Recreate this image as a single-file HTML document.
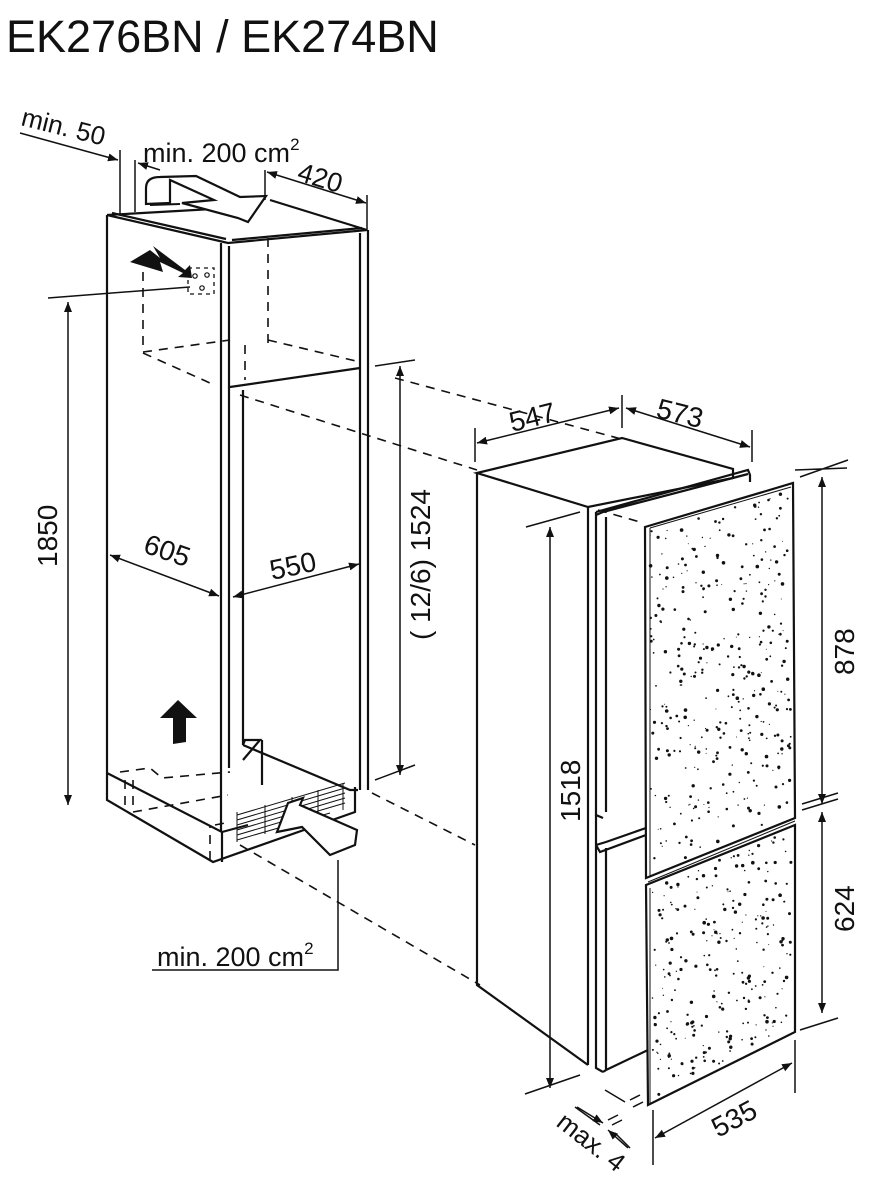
<!DOCTYPE html>
<html><head><meta charset="utf-8"><style>
html,body{margin:0;padding:0;background:#fff;width:878px;height:1200px;overflow:hidden}
svg{display:block}
text{font-family:"Liberation Sans",Arial,sans-serif;fill:#111}
</style></head><body>
<svg id="s" width="878" height="1200" viewBox="0 0 878 1200" xmlns="http://www.w3.org/2000/svg">
<defs>
<marker id="a" viewBox="0 0 10 10" refX="10" refY="5" markerWidth="10" markerHeight="10" orient="auto-start-reverse" markerUnits="userSpaceOnUse"><path d="M0,1 L10,5 L0,9 z" fill="#111"/></marker>
</defs>
<text x="6" y="52" font-size="45">EK276BN / EK274BN</text>

<g stroke="#111" fill="none" stroke-width="2.2">
<path d="M107,215 L228,243 L367,230 L270,200"/>
<path d="M107,215 L230,208"/>
<path d="M112,213 L226,239"/>
<path d="M232,240 L362,228"/>
<path d="M107,215 V770"/>
<path d="M221,243 V832 M229,246 V768 M243,390 V745"/>
<path d="M360,233 V790 M368,230 V790"/>
<path d="M230,387 L360,368"/>
<path d="M107,770 V800 L213,862 L355,812 V787"/>
<path d="M107,773 L222,832 V862"/>
<path d="M222,832 L248,825 M243,745 L350,790 L358,790"/>
<path d="M243,745 L245,740 L260,740 L243,760"/>
<path d="M262,740 V785"/>
</g>
<g stroke="#111" fill="none" stroke-width="1.6" stroke-dasharray="9,7">
<path d="M143,345 V260 M268,238 V345 M143,352 L230,340 M268,340 L360,362 M143,353 L210,383"/>
<path d="M245,345 V380"/>
<path d="M120,772 L150,768 L162,778 L230,772 M125,780 V810 M133,780 V812 M133,812 L228,795 M210,860 V825 M215,825 L230,822"/>
<path d="M395,378 L625,440"/>
<path d="M240,395 L477,470"/>
<path d="M372,793 L475,845"/>
<path d="M240,845 L480,985"/>
<path d="M598,510 L640,522"/>
</g>
<g stroke="#111" stroke-width="1" fill="none">
<path d="M237,815 L345,783 M237,820 L345,788 M237,825 L345,793 M237,830 L345,798 M237,835 L345,803 M237,840 L330,813"/>
<path d="M237,812 V842 M265,805 V834 M292,797 V826 M318,790 V818 M343,783 V810"/>
</g>
<path d="M146,204 V188 Q146,177 160,177 L196,176 L240,197 L266,196 L248,222 L238,218 L182,203 L214,200 L170,180 V203 Z" fill="#fff" stroke="#111" stroke-width="2.2"/>
<path d="M150,205 L180,204" stroke="#111" stroke-width="2"/>
<path d="M277,832 L288,803 L303,798 L300,805 L357,830 L355,845 L330,855 L302,827 Z" fill="#fff" stroke="#111" stroke-width="2.2"/>
<path d="M130,262 L150,250 L160,258 L153,246 L185,270 L190,265 L192,278 L178,277 L183,273 L160,262 L163,272 Z" fill="#111"/>
<g stroke="#111" stroke-width="1.3" fill="none" stroke-dasharray="4,4"><rect x="188" y="268" width="26" height="26"/></g>
<g stroke="#111" stroke-width="1.2" fill="none"><circle cx="195" cy="276" r="2.2"/><circle cx="207" cy="275" r="2.2"/><circle cx="202" cy="288" r="2.2"/></g>
<path d="M160,718 L178,700 L197,718 L186,718 L186,742 L173,744 L173,718 Z" fill="#111"/>

<g stroke="#111" stroke-width="1.5" fill="none">
<path d="M20,133 L118,160" marker-end="url(#a)"/>
<path d="M120,150 V215 M135,160 V212"/>
<path d="M160,170 L138,163" marker-end="url(#a)"/>
<path d="M265,170 V200 M367,195 V230"/>
<path d="M267,172 L366,203" marker-start="url(#a)" marker-end="url(#a)"/>
<path d="M48,298 L190,287"/>
<path d="M68,302 V805" marker-start="url(#a)" marker-end="url(#a)"/>
<path d="M110,555 L219,596" marker-start="url(#a)" marker-end="url(#a)"/>
<path d="M233,597 L359,564" marker-start="url(#a)" marker-end="url(#a)"/>
<path d="M375,366 L415,360"/>
<path d="M400,366 V775" marker-start="url(#a)" marker-end="url(#a)"/>
<path d="M375,780 L415,765"/>
<path d="M338,860 V970 H152"/>
</g>
<text font-size="26" transform="translate(20,125) rotate(14)">min. 50</text>
<text x="143" y="162" font-size="27">min. 200 cm<tspan dy="-12" font-size="17">2</tspan></text>
<text font-size="27" transform="translate(296,180) rotate(17)">420</text>
<text font-size="28" transform="translate(57,567) rotate(-90)">1850</text>
<text font-size="28" transform="translate(142,552) rotate(19)">605</text>
<text font-size="28" transform="translate(272,580) rotate(-12)">550</text>
<text font-size="28" transform="translate(430,640) rotate(-90)">( 12/6) 1524</text>
<text x="157" y="966" font-size="27">min. 200 cm<tspan dy="-12" font-size="17">2</tspan></text>

<g stroke="#111" fill="none" stroke-width="2.2">
<path d="M477,473 L622,438 L733,469 L733,478 L588,507 L477,473 Z"/>
<path d="M477,473 V985 L588,1065"/>
<path d="M588,507 V1065"/>
<path d="M596,512 L748,470 L750,475 V482 M596,512 V815 L603,818 M606,517 V812 M603,512 L748,474"/>
<path d="M596,515 L603,512"/>
<path d="M596,845 V1068 L603,1072 M606,848 V1070 L648,1050 M596,845 L606,842 L646,828 M596,845 L600,852 L646,835"/>
<path d="M596,815 L596,845"/>
<path d="M603,1072 L606,1070"/>
</g>
<g stroke="#111" fill="#fff" stroke-width="2.2">
<path d="M645,527 L793,483 L795,818 L646,878 Z"/>
<path d="M646,885 L795,825 L795,1032 L648,1105 Z"/>
</g>
<g stroke="#111" stroke-width="1" fill="none">
<path d="M650,528 L791,487 M650,528 V876 M650,888 V1103 M648,882 L795,821"/>
</g>
<g id="dots" fill="#111"></g>

<g stroke="#111" stroke-width="1.5" fill="none">
<path d="M475,428 V462 M622,395 V428 M752,430 V462"/>
<path d="M477,443 L619,408" marker-start="url(#a)" marker-end="url(#a)"/>
<path d="M626,408 L750,447" marker-start="url(#a)" marker-end="url(#a)"/>
<path d="M795,470 L847,468 M800,477 L848,460"/>
<path d="M822,477 V804" marker-start="url(#a)" marker-end="url(#a)"/>
<path d="M802,804 L838,793 M802,810 L838,799"/>
<path d="M822,812 V1013" marker-start="url(#a)" marker-end="url(#a)"/>
<path d="M800,1030 L838,1018"/>
<path d="M526,527 L580,512 M525,1094 L580,1075"/>
<path d="M550,527 V1088" marker-start="url(#a)" marker-end="url(#a)"/>
<path d="M653,1110 V1165 M795,1040 V1093"/>
<path d="M655,1138 L792,1063" marker-start="url(#a)" marker-end="url(#a)"/>
<path d="M575,1107 L600,1125 M615,1133 L630,1148 M608,1120 L618,1115 M612,1125 L622,1120 M630,1100 L640,1095 M633,1107 L643,1102 M605,1090 L625,1102"/>
<path d="M577,1107 L603,1123" marker-end="url(#a)"/>
<path d="M628,1148 L608,1130" marker-end="url(#a)"/>
</g>
<text font-size="28" transform="translate(512,432) rotate(-14)">547</text>
<text font-size="28" transform="translate(655,417) rotate(14)">573</text>
<text font-size="28" transform="translate(854,675) rotate(-90)">878</text>
<text font-size="28" transform="translate(854,932) rotate(-90)">624</text>
<text font-size="28" transform="translate(580,822) rotate(-90)">1518</text>
<text font-size="28" transform="translate(718,1138) rotate(-28)">535</text>
<text font-size="26" transform="translate(555,1125) rotate(38)">max. 4</text>
</svg>
<script>
(function(){
var g=document.getElementById('dots'),s=12345;
function r(){s=(s*1103515245+12345)%2147483648;return s/2147483648;}
function fill(x0,y0t,y0b,x1,y1t,y1b,n){
 for(var i=0;i<n;i++){var u=r(),v=r();var x=x0+4+u*(x1-x0-8);
 var yt=y0t+(y1t-y0t)*u+4,yb=y0b+(y1b-y0b)*u-4;var y=yt+v*(yb-yt);
 var c=document.createElementNS('http://www.w3.org/2000/svg','circle');
 c.setAttribute('cx',x.toFixed(1));c.setAttribute('cy',y.toFixed(1));c.setAttribute('r',(0.5+r()*1.3).toFixed(1));g.appendChild(c);}
}
fill(646,527,878,795,483,818,360);
fill(648,885,1105,795,825,1032,260);
})();
</script>
</body></html>
